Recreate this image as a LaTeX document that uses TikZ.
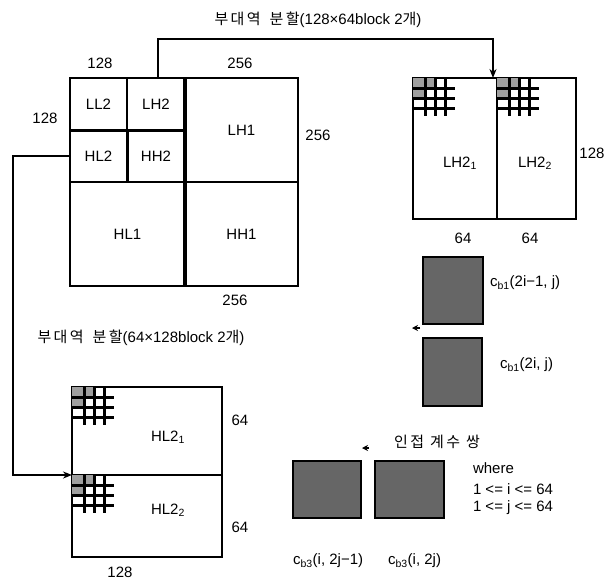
\documentclass[tikz,border=0pt]{standalone}
\usepackage{fontspec}
\setmainfont{Liberation Sans}
\newfontfamily\kr[LetterSpace=16]{Noto Sans CJK KR}
\usetikzlibrary{arrows.meta}
\newcommand\cellgrid[2]{%
  \begin{scope}[shift={(#1,#2)}]
    \fill[gray!75] (0,0) rectangle (22,10);
    \fill[gray!75] (0,10) rectangle (12,20);
    \foreach \v in {12,22,32} \draw[line width=3pt] (\v,0) -- (\v,38);
    \foreach \h in {10,20,30} \draw[line width=3pt] (0,\h) -- (42,\h);
  \end{scope}}
\begin{document}
\begin{tikzpicture}[x=1pt,y=-1pt,
  every node/.style={font=\fontsize{15}{17}\selectfont, inner sep=0pt, outer sep=0pt},
  blk/.style={draw, line width=1.8pt},
  dark/.style={draw, line width=2pt, fill=black!60},
  conn/.style={line width=2pt, -{Stealth[length=9pt,width=7pt]}},
  stub/.style={line width=2pt, -{Stealth[length=6pt,width=6pt]}},
  lbl/.style={anchor=west}]
\useasboundingbox[fill=white] (0,0) rectangle (614,582);

% main square
\node[blk, minimum width=57pt, minimum height=52pt] (LL2) at (98.5,104) {LL2};
\node[blk, minimum width=58pt, minimum height=52pt] (LH2) at (156,104) {LH2};
\node[blk, minimum width=57pt, minimum height=52pt] (HL2) at (98.5,156) {HL2};
\node[blk, minimum width=58pt, minimum height=52pt] (HH2) at (156,156) {HH2};
\node[blk, minimum width=113pt, minimum height=104pt] (LH1) at (241.5,130) {LH1};
\node[blk, minimum width=115pt, minimum height=104pt] (HL1) at (127.5,234) {HL1};
\node[blk, minimum width=113pt, minimum height=104pt] (HH1) at (241.5,234) {HH1};
\draw[line width=4pt] (LH1.north west) -- (HH1.south west);
\draw[line width=3pt] (HH2.north west) -- (HH2.south west);
\draw[line width=3pt] (LL2.south west) -- (LH2.south east);

\node (t128) at (100,63) {128};
\node (t256) at (240,63) {256};
\node (l128) at (45,118) {128};
\node (r256) at (318,135) {256};
\node (b256) at (235,300) {256};

% top title and arrow
\node (title1) at (318,20) {{\kr 부대역\hspace{9pt}분할}(128×64block 2{\kr 개})};
\node[blk, minimum width=84pt, minimum height=141pt] (LH21) at (455,148.5) {};
\node[blk, minimum width=79pt, minimum height=141pt] (LH22) at (536.5,148.5) {};
\cellgrid{413}{78}
\cellgrid{497}{78}
\node (nLH21) at (460,163) {LH2\textsubscript{1}};
\node (nLH22) at (535,163) {LH2\textsubscript{2}};
\node (r128) at (592,153) {128};
\node (b64a) at (463,238) {64};
\node (b64b) at (530,238) {64};
\draw[conn] (LH2.north) ++(2,0) |- (493,39) -- ([xshift=-4pt]LH22.north west);

% lower block
\node (title2) at (141,338) {{\kr 부대역\hspace{9pt}분할}(64×128block 2{\kr 개})};
\node[blk, minimum width=150pt, minimum height=88pt] (HL21) at (147,431) {};
\node[blk, minimum width=150pt, minimum height=82pt] (HL22) at (147,516) {};
\cellgrid{72}{387}
\cellgrid{72}{475}
\node (nHL21) at (168,437) {HL2\textsubscript{1}};
\node (nHL22) at (168,510) {HL2\textsubscript{2}};
\node (r64a) at (240,420) {64};
\node (r64b) at (240,527) {64};
\node (b128) at (120,572) {128};
\coordinate (turn) at (13,156);
\draw[conn] (HL2.west) -- (turn) |- (HL22.north west);

% coefficient squares
\node[dark, minimum width=60pt, minimum height=67pt] (cb1a) at (453,290.5) {};
\node[dark, minimum width=59pt, minimum height=68pt] (cb1b) at (452.5,372) {};
\node[lbl] (ncb1a) at (490,283) {c\textsubscript{b1}(2i−1, j)};
\node[lbl] (ncb1b) at (500,365) {c\textsubscript{b1}(2i, j)};
\coordinate (s1) at (420,328);
\draw[stub] (s1) -- ++(-8,0);

\node (pair) at (437,442) {\kr 인접\hspace{6pt}계수\hspace{6pt}쌍};
\coordinate (s2) at (369,448);
\draw[stub] (s2) -- ++(-7,0);
\node[dark, minimum width=68pt, minimum height=57pt] (cb3a) at (327,489.5) {};
\node[dark, minimum width=69pt, minimum height=57pt] (cb3b) at (409.5,489.5) {};
\node[lbl] (ncb3a) at (293,561) {c\textsubscript{b3}(i, 2j−1)};
\node[lbl] (ncb3b) at (388,561) {c\textsubscript{b3}(i, 2j)};
\node[lbl] (where) at (473,468) {where};
\node[lbl] (ri) at (473,489) {1 <= i <= 64};
\node[lbl] (rj) at (473,508) {1 <= j <= 64};
\end{tikzpicture}
\end{document}
